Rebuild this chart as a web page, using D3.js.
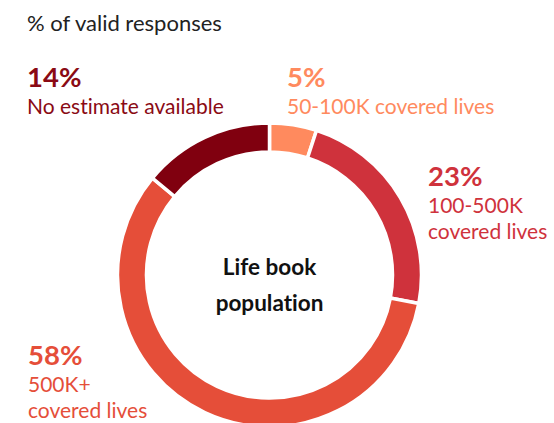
<!DOCTYPE html>
<html>
<head>
<meta charset="utf-8">
<script src="https://cdn.jsdelivr.net/npm/d3@7"></script>
<style>
  html, body { margin: 0; padding: 0; background: #fff; }
  svg { display: block; font-family: Lato, "Open Sans", sans-serif; font-variant-ligatures: none; }
</style>
</head>
<body>
<svg id="chart" width="554" height="423"></svg>
<script>
// Segments in clockwise order starting at 12 o'clock
const categories = ["50-100K covered lives", "100-500K covered lives", "500K+ covered lives", "No estimate available"];
const shares = [5, 23, 58, 14];
const colors = ["#FF8A5E", "#CF323C", "#E54E39", "#80000F"];
const labelColors = ["#FF8A5E", "#CF323C", "#E54E39", "#8A0A14"];
// Label text lines for each segment
const labelLines = [
  ["50-100K covered lives"],
  ["100-500K", "covered lives"],
  ["500K+", "covered lives"],
  ["No estimate available"]
];
const title = "% of valid responses";
const centerLines = ["Life book", "population"];

const svg = d3.select("#chart");
const cx = 269.5, cy = 275;
const outerR = 152, innerR = 123;

const pie = d3.pie().sort(null).value(d => d)(shares);
const arc = d3.arc().innerRadius(innerR).outerRadius(outerR);

const g = svg.append("g").attr("transform", `translate(${cx},${cy})`);
g.selectAll("path")
  .data(pie)
  .join("path")
  .attr("d", arc)
  .attr("fill", (d, i) => colors[i])
  .attr("stroke", "#fff")
  .attr("stroke-width", 3.5)
  .attr("stroke-linejoin", "miter");

// Centre caption
g.selectAll("text.center")
  .data(centerLines)
  .join("text")
  .attr("class", "center")
  .attr("text-anchor", "middle")
  .attr("x", 0)
  .attr("y", (d, i) => 0 + i * 36)
  .attr("font-size", 22.5)
  .attr("font-weight", 700)
  .attr("fill", "#111")
  .text(d => d);

// Title
svg.append("text")
  .attr("x", 27).attr("y", 31)
  .attr("font-size", 22)
  .attr("fill", "#222")
  .text(title);

// Segment labels: anchor positions for each block
const labelPos = [
  { x: 287, y: 87 },
  { x: 428, y: 186 },
  { x: 28, y: 365 },
  { x: 27, y: 87 }
];
const fmt = v => v + "%";

labelPos.forEach((p, i) => {
  const block = svg.append("g").attr("fill", labelColors[i]);
  block.append("text")
    .attr("x", p.x).attr("y", p.y)
    .attr("font-size", 27.5)
    .attr("font-weight", 700)
    .text(fmt(shares[i]));
  labelLines[i].forEach((line, j) => {
    block.append("text")
      .attr("x", p.x).attr("y", p.y + 26.5 + j * 26)
      .attr("font-size", 21)
      .text(line);
  });
});
</script>
</body>
</html>
